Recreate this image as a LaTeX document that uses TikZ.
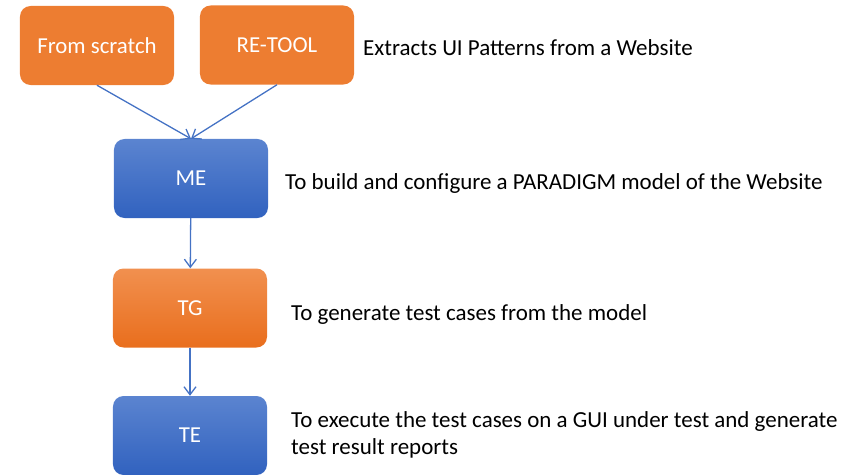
\documentclass[tikz,border=0pt]{standalone}
\usepackage{fontspec}
\setmainfont{Carlito}
\usepackage{tikz}
\usetikzlibrary{arrows.meta,positioning,calc}
\definecolor{orng}{HTML}{ED7D31}
\definecolor{orngtop}{HTML}{F1904F}
\definecolor{orngbot}{HTML}{E96E1D}
\definecolor{blutop}{HTML}{5B84D0}
\definecolor{blubot}{HTML}{3162BF}
\definecolor{lnk}{HTML}{4472C4}
\tikzset{
  blk/.style={rounded corners=9pt, minimum width=4.62cm, minimum height=2.37cm, align=center,
              text=white, font=\fontsize{19.5}{23}\selectfont, inner sep=0pt},
  src/.style={blk, fill=orng},
  tgbox/.style={blk, top color=orngtop, bottom color=orngbot},
  bbox/.style={blk, top color=blutop, bottom color=blubot},
  sig/.style={-{Straight Barb[length=2.4mm,width=3.6mm]}, line width=1.1pt, draw=lnk},
  lab/.style={anchor=west, inner sep=0pt, align=left, font=\fontsize{19.6}{23}\selectfont},
}
\begin{document}
\begin{tikzpicture}[x=0.03cm, y=-0.03cm]
    \useasboundingbox (0,0) rectangle (863,475);
    \clip (0,0) rectangle (863,475);
    \node[src] (scr) at (97,45.5) {From scratch};
    \node[src] (ret) at (277,45) {RE-TOOL};
    \node[bbox] (me) at (191,178.5) {ME};
    \node[tgbox] (tg) at (190,308) {TG};
    \node[bbox] (te) at (190,435.5) {TE};
    \node[lab] (ret-txt) at (363,48) {Extracts UI Patterns from a Website};
    \node[lab] (me-txt) at (285,183) {To build and configure a PARADIGM model of the Website};
    \node[lab] (tg-txt) at (291,314) {To generate test cases from the model};
    \node[lab] (te-txt) at (291,434.5) {To execute the test cases on a GUI under test and generate\\test result reports};
    \draw[sig] (scr.south) -- (me.north);
    \draw[sig] (ret.south) -- (me.north);
    \draw[sig] (me) -- (tg);
    \draw[sig] (tg) -- (te);
  \end{tikzpicture}
\end{document}
